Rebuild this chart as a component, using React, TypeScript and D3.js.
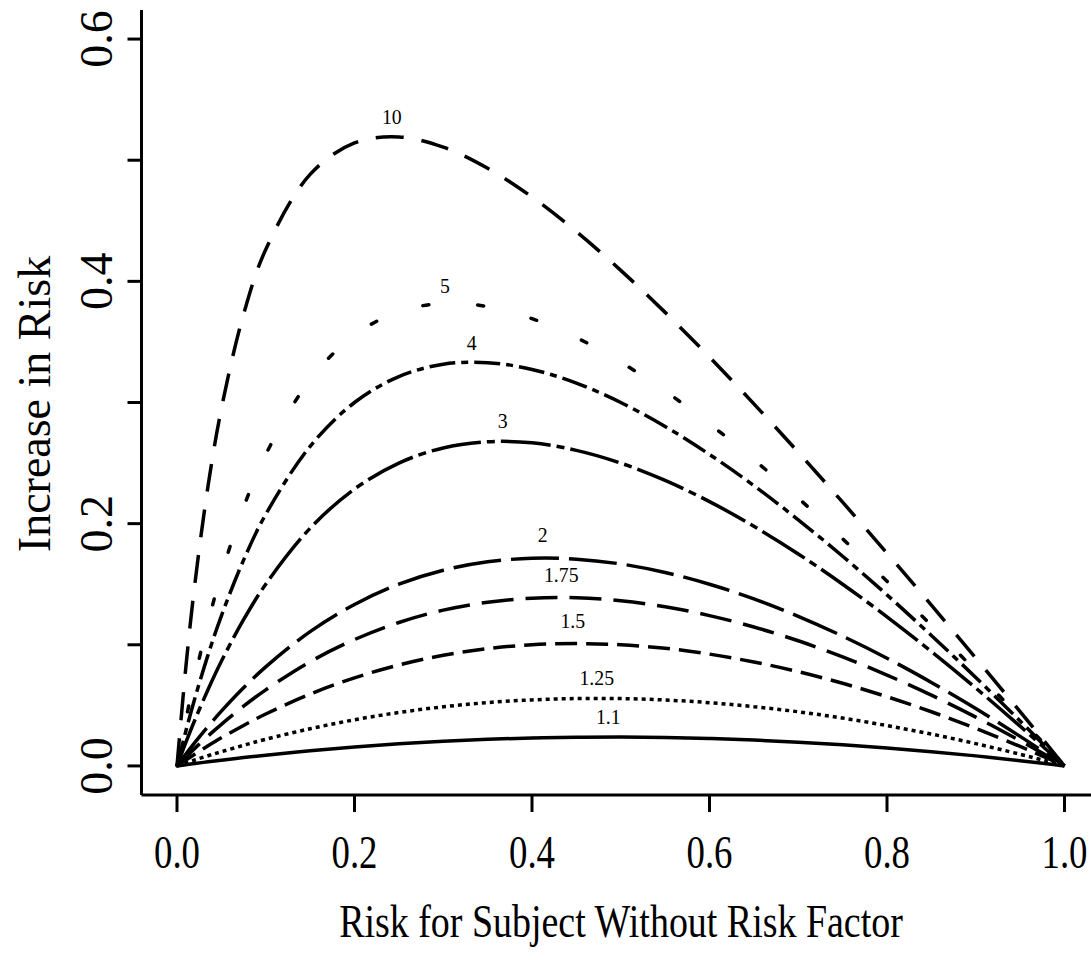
import React from 'react';
import * as d3 from 'd3';

// risk for subject without the risk factor (x values)
const baseRisk = [0, 0.01, 0.02, 0.035, 0.05, 0.075, 0.1, 0.15, 0.2, 0.25, 0.3, 0.35, 0.4, 0.45, 0.5, 0.55, 0.6, 0.65, 0.7, 0.75, 0.8, 0.85, 0.9, 0.95, 0.98, 1];

// increase in risk, one array per odds ratio
const or10 = [0, 0.0817, 0.1495, 0.2312, 0.2948, 0.3728, 0.4263, 0.4883, 0.5143, 0.5192, 0.5108, 0.4934, 0.4696, 0.4411, 0.4091, 0.3744, 0.3375, 0.2989, 0.2589, 0.2177, 0.1756, 0.1327, 0.089, 0.0448, 0.018, 0];
const or5 = [0, 0.0381, 0.0726, 0.1185, 0.1583, 0.2135, 0.2571, 0.3188, 0.3556, 0.375, 0.3818, 0.3792, 0.3692, 0.3536, 0.3333, 0.3094, 0.2824, 0.2528, 0.2211, 0.1875, 0.1524, 0.1159, 0.0783, 0.0396, 0.0159, 0];
const or4 = [0, 0.0288, 0.0555, 0.0917, 0.1239, 0.1699, 0.2077, 0.2638, 0.3, 0.3214, 0.3316, 0.3329, 0.3273, 0.316, 0.3, 0.2802, 0.2571, 0.2314, 0.2032, 0.1731, 0.1412, 0.1077, 0.073, 0.037, 0.0149, 0];
const or3 = [0, 0.0194, 0.0377, 0.0631, 0.0864, 0.1207, 0.15, 0.1962, 0.2286, 0.25, 0.2625, 0.2676, 0.2667, 0.2605, 0.25, 0.2357, 0.2182, 0.1978, 0.175, 0.15, 0.1231, 0.0944, 0.0643, 0.0328, 0.0132, 0];
const or2 = [0, 0.0098, 0.0192, 0.0326, 0.0452, 0.0645, 0.0818, 0.1109, 0.1333, 0.15, 0.1615, 0.1685, 0.1714, 0.1707, 0.1667, 0.1597, 0.15, 0.1379, 0.1235, 0.1071, 0.0889, 0.0689, 0.0474, 0.0244, 0.0099, 0];
const or175 = [0, 0.0074, 0.0145, 0.0247, 0.0343, 0.0493, 0.0628, 0.086, 0.1043, 0.1184, 0.1286, 0.1351, 0.1385, 0.1388, 0.1364, 0.1314, 0.1241, 0.1147, 0.1033, 0.09, 0.075, 0.0584, 0.0403, 0.0208, 0.0085, 0];
const or15 = [0, 0.0049, 0.0097, 0.0166, 0.0232, 0.0334, 0.0429, 0.0593, 0.0727, 0.0833, 0.0913, 0.0968, 0.1, 0.101, 0.1, 0.0971, 0.0923, 0.0858, 0.0778, 0.0682, 0.0571, 0.0447, 0.031, 0.0161, 0.0066, 0];
const or125 = [0, 0.0025, 0.0049, 0.0084, 0.0117, 0.017, 0.022, 0.0307, 0.0381, 0.0441, 0.0488, 0.0523, 0.0545, 0.0556, 0.0556, 0.0544, 0.0522, 0.0489, 0.0447, 0.0395, 0.0333, 0.0263, 0.0184, 0.0096, 0.0039, 0];
const or11 = [0, 0.001, 0.002, 0.0034, 0.0047, 0.0069, 0.0089, 0.0126, 0.0157, 0.0183, 0.0204, 0.022, 0.0231, 0.0237, 0.0238, 0.0235, 0.0226, 0.0214, 0.0196, 0.0174, 0.0148, 0.0118, 0.0083, 0.0043, 0.0018, 0];

const curveNames = ['10', '5', '4', '3', '2', '1.75', '1.5', '1.25', '1.1'];
const curveValues = [or10, or5, or4, or3, or2, or175, or15, or125, or11];
// where each curve label sits (data units)
const labelX = [0.242, 0.302, 0.332, 0.367, 0.412, 0.433, 0.446, 0.473, 0.486];
const labelY = [0.530, 0.390, 0.343, 0.279, 0.185, 0.152, 0.114, 0.067, 0.035];

const xTicks = [0, 0.2, 0.4, 0.6, 0.8, 1.0];
const yTicks = [0, 0.1, 0.2, 0.3, 0.4, 0.5, 0.6];
const yTickLabels = [0, 0.2, 0.4, 0.6];

// line types, R style
const dashes = ['28 18', '6 49', '26 6 7 6', '50 6 8 6', '48 10', '32 12', '22 9', '4 4', null];

const W = 1091;
const H = 961;
const FONT = '"Liberation Serif", "Times New Roman", serif';

export default function App() {
  const x = d3.scaleLinear().domain([-0.04, 1.04]).range([141.5, 1100]);
  const y = d3.scaleLinear().domain([-0.024, 0.624]).range([795, 10]);

  const line = d3.line<number>()
    .x((d, i) => x(baseRisk[i]))
    .y(d => y(d))
    .curve(d3.curveCatmullRom.alpha(0.5));

  const axisY = y(-0.024);
  const axisX = x(-0.04);

  return (
    <svg width={W} height={H} style={{ position: 'absolute', left: 0, top: 0, background: '#fff' }}>
      {/* curves */}
      {curveValues.map((vals, i) => (
        <path
          key={curveNames[i]}
          d={line(vals) || ''}
          fill="none"
          stroke="#000"
          strokeWidth={3.5}
          strokeDasharray={dashes[i] || undefined}
          strokeLinecap={i === 1 ? 'round' : 'butt'}
        />
      ))}

      {/* curve labels */}
      {curveNames.map((name, i) => (
        <text
          key={'lab' + name}
          transform={`translate(${x(labelX[i])},${y(labelY[i])}) scale(0.9,1)`}
          textAnchor="middle"
          fontFamily={FONT}
          fontSize={22}
          fill="#000"
        >{name}</text>
      ))}

      {/* axes (L shape) */}
      <line x1={axisX} y1={y(0.624)} x2={axisX} y2={axisY} stroke="#000" strokeWidth={3} />
      <line x1={axisX} y1={axisY} x2={W} y2={axisY} stroke="#000" strokeWidth={3} />

      {xTicks.map(t => (
        <g key={'xt' + t}>
          <line x1={x(t)} x2={x(t)} y1={axisY} y2={axisY + 17} stroke="#000" strokeWidth={3} />
          <text
            transform={`translate(${x(t)},868) scale(0.8,1)`}
            textAnchor="middle"
            fontFamily={FONT}
            fontSize={46}
            fill="#000"
          >{t.toFixed(1)}</text>
        </g>
      ))}

      {yTicks.map(t => (
        <line key={'yt' + t} x1={axisX - 14} x2={axisX} y1={y(t)} y2={y(t)} stroke="#000" strokeWidth={3} />
      ))}
      {yTickLabels.map(t => (
        <text
          key={'yl' + t}
          transform={`translate(112,${y(t)}) rotate(-90)`}
          textAnchor="middle"
          fontFamily={FONT}
          fontSize={46}
          fill="#000"
        >{t.toFixed(1)}</text>
      ))}

      {/* axis titles */}
      <text
        transform="translate(621,937) scale(0.825,1)"
        textAnchor="middle"
        fontFamily={FONT}
        fontSize={46}
        fill="#000"
      >Risk for Subject Without Risk Factor</text>
      <text
        transform="translate(50,404) rotate(-90)"
        textAnchor="middle"
        fontFamily={FONT}
        fontSize={46}
        fill="#000"
      >Increase in Risk</text>
    </svg>
  );
}
